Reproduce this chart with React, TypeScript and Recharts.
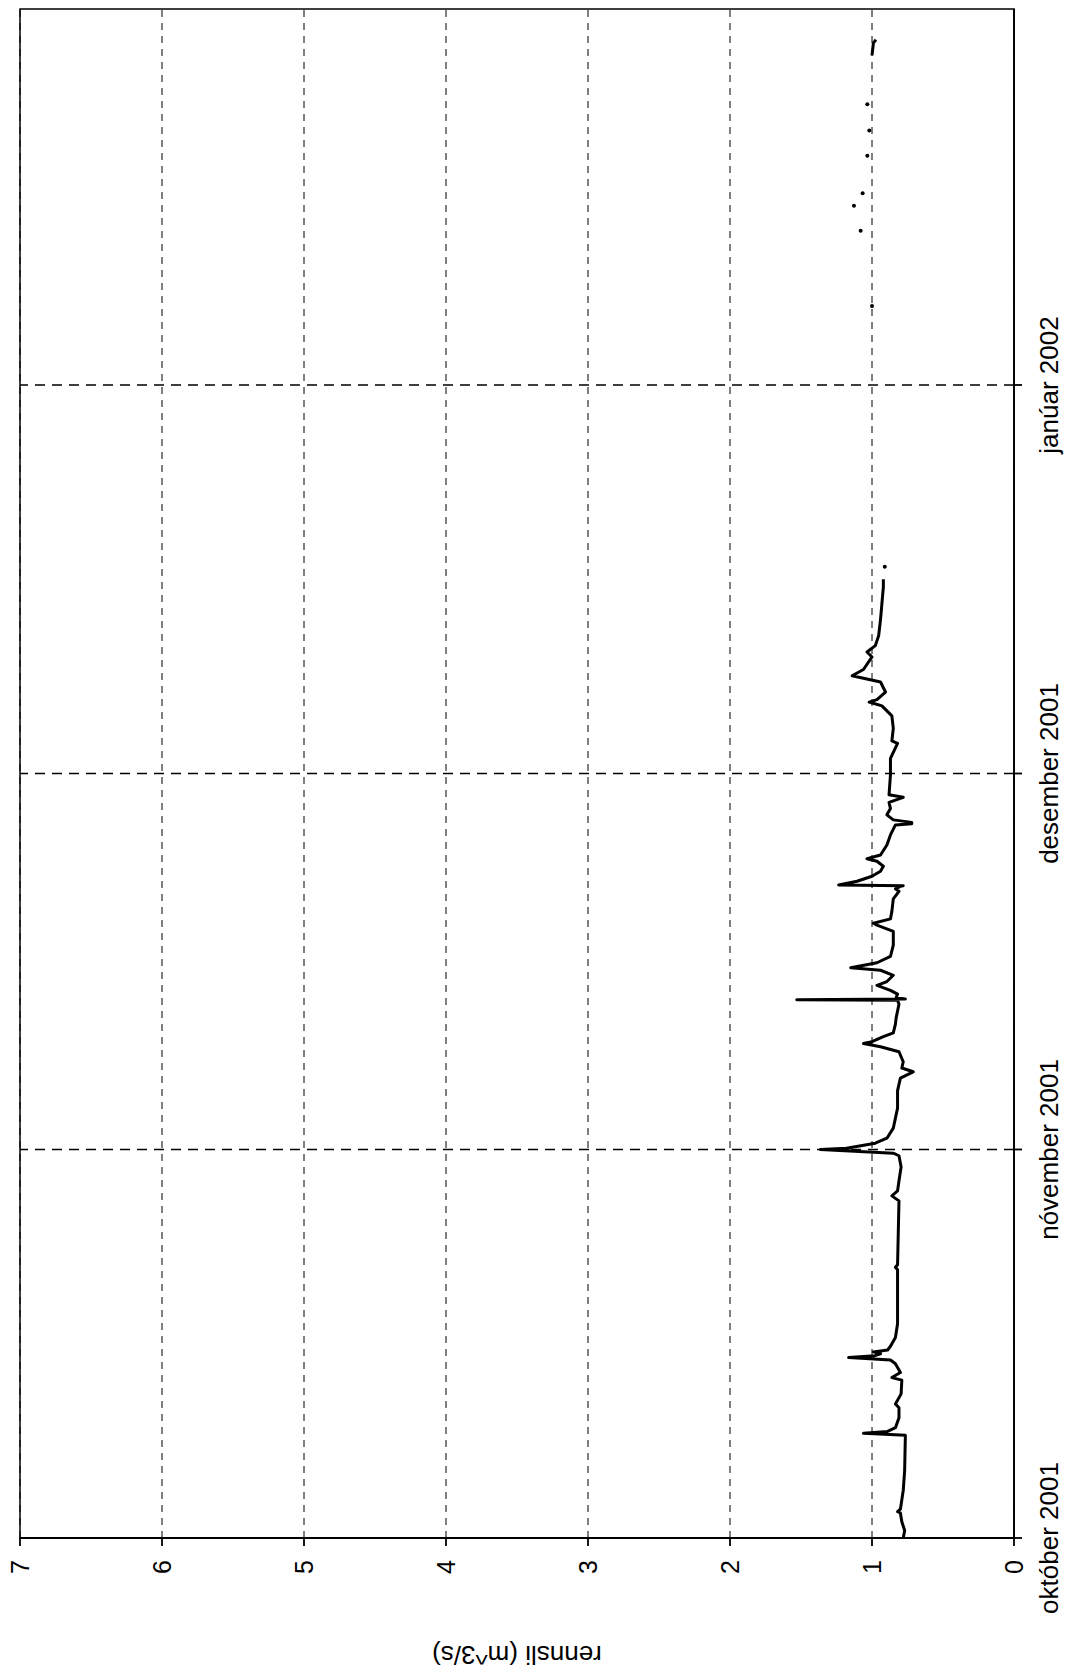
import React from "react";
import {
  ComposedChart,
  Line,
  Scatter,
  XAxis,
  YAxis,
  CartesianGrid,
  ReferenceLine,
  ReferenceArea,
} from "recharts";

// time axis: days counted from 1 Oct 2001
const monthTicks = [0, 31, 61, 92];
const monthLabels = ["október 2001", "nóvember 2001", "desember 2001", "janúar 2002"];
const rateTicks = [0, 1, 2, 3, 4, 5, 6, 7];

// continuous record (null = gap in the record)
const flowDays = [
  0.0, 0.6, 1.3, 2.0, 2.1, 2.3, 3.8, 5.4, 8.2, 8.35, 8.5, 8.8, 9.6, 10.4, 10.7, 11.5,
  12.6, 12.8, 13.2, 13.9, 14.2, 14.4, 14.55, 14.7, 14.85, 15.0, 15.3, 16.0, 17.1, 18.4,
  19.7, 21.4, 21.6, 21.8, 26.9, 27.3, 27.7, 28.5, 29.6, 30.5, 30.7, 31.0, 31.1, 31.5,
  31.9, 32.7, 33.5, 34.3, 35.7, 36.7, 37.2, 37.5, 38.0, 38.8, 39.2, 39.45, 39.6, 40.0,
  40.3, 41.0, 41.5, 42.6, 42.9, 42.95, 43.0, 43.1, 43.4, 43.7, 44.1, 44.4, 44.9, 45.3,
  45.5, 45.9, 46.4, 47.3, 48.4, 48.9, 49.05, 49.4, 50.0, 51.0, 51.6, 51.8, 52.0, 52.05,
  52.1, 52.4, 52.8, 53.2, 53.6, 54.0, 54.2, 54.5, 55.3, 56.1, 56.9, 57.0, 57.1, 57.3,
  57.7, 58.2, 58.7, 59.1, 59.3, 60.9, 62.2, 63.4, 63.6, 64.6, 65.6, 66.4, 66.7, 66.9,
  67.5, 68.3, 68.8, 69.3, 70.3, 70.7, 71.2, 72.0, 73.3, 74.6, 75.9, 76.5, 77.0, 118.3,
  119.3, 119.55,
];
const flowRates = [
  0.78, 0.77, 0.79, 0.8, 0.82, 0.8, 0.78, 0.77, 0.765, 1.06, 0.89, 0.835, 0.81, 0.81, 0.835, 0.795,
  0.79, 0.86, 0.8, 0.835, 0.87, 1.165, 0.98, 0.94, 0.99, 0.89, 0.87, 0.835, 0.82, 0.82,
  0.82, 0.82, 0.835, 0.82, 0.81, 0.86, 0.82, 0.81, 0.795, 0.81, 0.85, 1.364, 1.18, 0.977,
  0.895, 0.85, 0.835, 0.82, 0.82, 0.8, 0.71, 0.79, 0.78, 0.81, 0.94, 1.06, 1.0, 0.92,
  0.85, 0.835, 0.83, 0.81, 0.82, 1.53, 0.765, 0.83, 0.82, 0.87, 0.965, 0.895, 0.85, 0.94,
  1.15, 0.965, 0.87, 0.85, 0.85, 0.965, 0.99, 0.87, 0.86, 0.85, 0.81, 0.835, 0.8, 0.78,
  1.235, 1.105, 1.0, 0.94, 0.92, 0.965, 1.035, 0.94, 0.895, 0.87, 0.835, 0.72, 0.72, 0.85,
  0.895, 0.87, 0.88, 0.78, 0.88, 0.87, 0.87, 0.82, 0.86, 0.85, 0.86, 0.93, 1.02, 0.965,
  0.905, 0.94, 1.14, 1.06, 1.0, 1.035, 0.977, 0.953, 0.94, 0.93, 0.92, 0.92, null, 1.0,
  0.99, 0.972,
];

// single isolated readings
const spotDays = [77.5, 98.3, 104.3, 106.3, 107.3, 110.3, 112.3, 114.4];
const spotRates = [0.91, 1.0, 1.08, 1.127, 1.066, 1.033, 1.019, 1.033];

const flowData = flowDays.map((day, i) => ({ day, q: flowRates[i] }));
const spotData = spotDays.map((day, i) => ({ day, q: spotRates[i] }));

const FONT = "'Liberation Sans', Arial, Helvetica, sans-serif";

const Dot = (p: any) => <circle cx={p.cx} cy={p.cy} r={2} fill="#000" />;

export default function App() {
  return (
    <div style={{ position: "fixed", left: 0, top: 0, width: 1072, height: 1675, overflow: "hidden", background: "#fff" }}>
      <div
        style={{
          position: "absolute",
          left: 0,
          top: 0,
          width: 1675,
          height: 1072,
          transformOrigin: "0 0",
          transform: "translate(0px, 1675px) rotate(-90deg)",
          fontFamily: FONT,
        }}
      >
        <ComposedChart width={1675} height={1072} margin={{ top: 20, right: 9, bottom: 0, left: 0 }}>
          <CartesianGrid vertical={false} stroke="#000" strokeDasharray="7 6" strokeWidth={1} />
          {monthTicks.slice(1).map((t) => (
            <ReferenceLine key={t} x={t} stroke="#000" strokeDasharray="10 7" strokeWidth={1.6} />
          ))}
          <XAxis
            type="number"
            dataKey="day"
            domain={[0, 122]}
            ticks={monthTicks}
            interval={0}
            tickFormatter={(v) => monthLabels[monthTicks.indexOf(v)]}
            height={58}
            tickSize={8}
            tickMargin={18}
            stroke="#000"
            strokeWidth={1.8}
            tick={{ fontSize: 26, fill: "#000", fontFamily: FONT }}
          />
          <YAxis
            type="number"
            domain={[0, 7]}
            ticks={rateTicks}
            interval={0}
            width={137}
            tickSize={8}
            tickMargin={14}
            stroke="#000"
            strokeWidth={1.8}
            tick={{ fontSize: 25, fill: "#000", fontFamily: FONT }}
            label={{
              value: "rennsli (m^3/s)",
              angle: -90,
              position: "insideLeft",
              offset: 20,
              style: { textAnchor: "middle", fontSize: 26, fill: "#000", fontFamily: FONT },
            }}
          />
          <ReferenceArea x1={0} x2={122} y1={0} y2={7} fill="none" stroke="#000" strokeWidth={1.5} />
          <Line
            data={flowData}
            dataKey="q"
            type="linear"
            stroke="#000"
            strokeWidth={3}
            strokeLinejoin="round"
            dot={false}
            connectNulls={false}
            isAnimationActive={false}
          />
          <Scatter data={spotData} dataKey="q" shape={Dot} isAnimationActive={false} />
        </ComposedChart>
      </div>
    </div>
  );
}
